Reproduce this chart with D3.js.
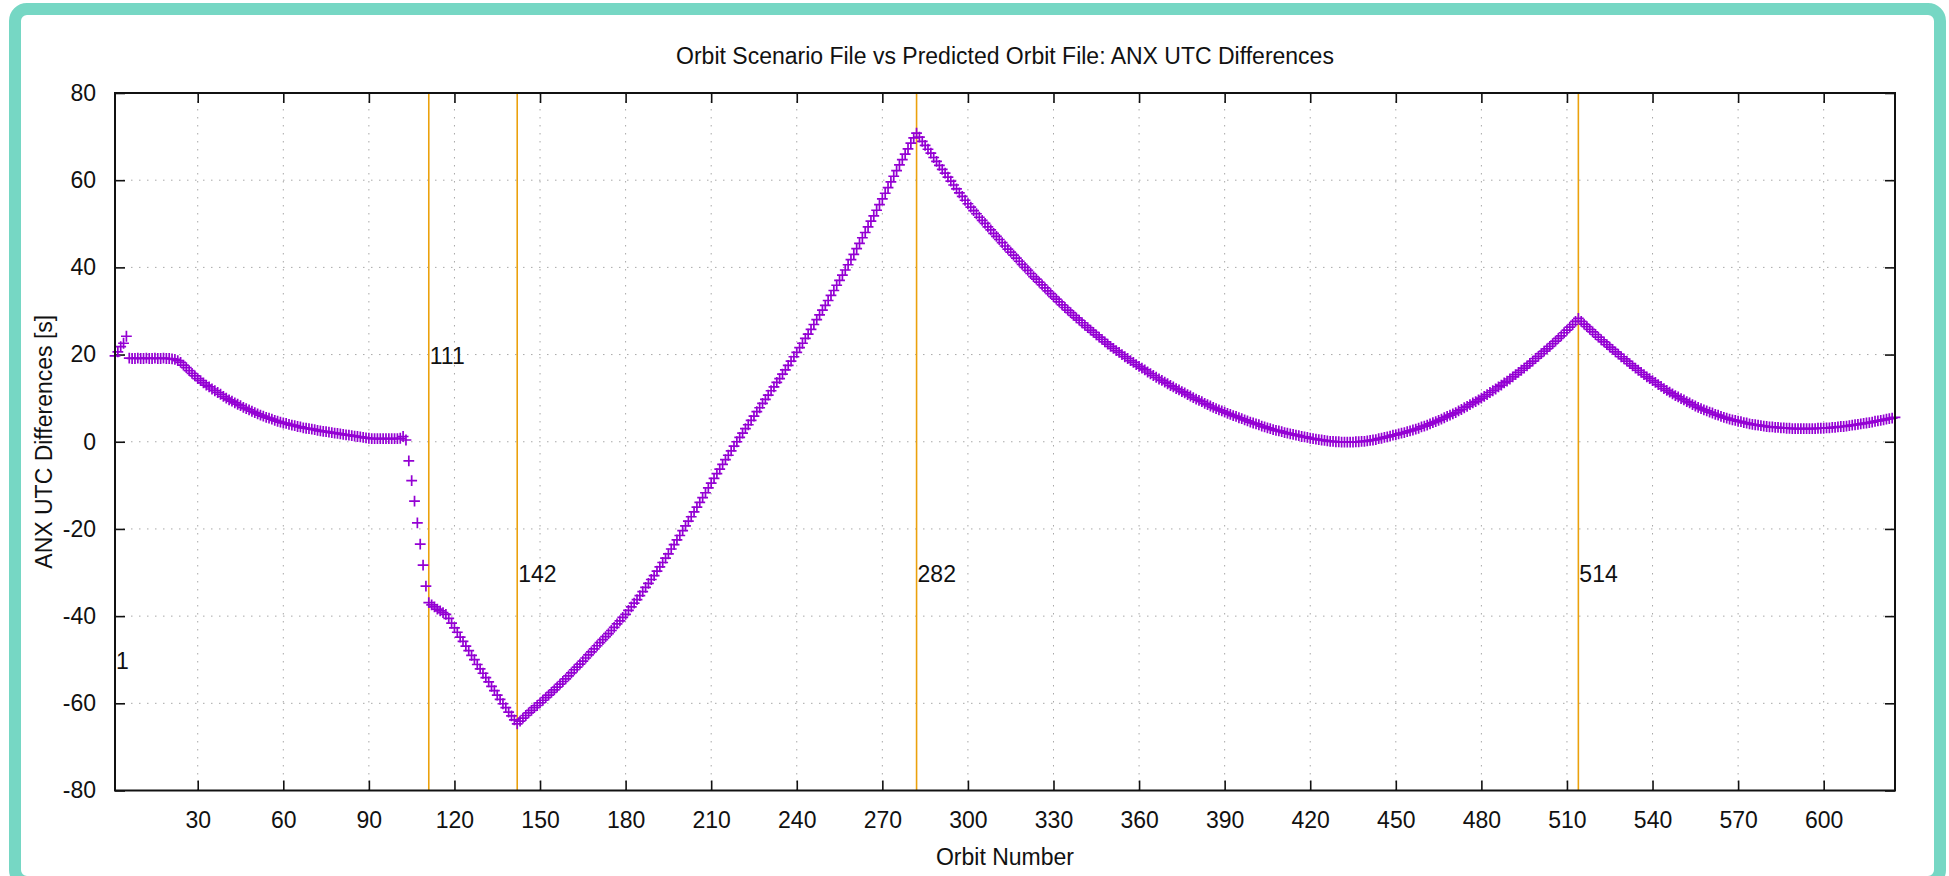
<!DOCTYPE html>
<html>
<head>
<meta charset="utf-8">
<script src="https://cdn.jsdelivr.net/npm/d3@7"></script>
<style>
  html, body { margin: 0; padding: 0; background: #ffffff; }
  svg { display: block; }
  text { font-family: "Liberation Sans", Arial, Helvetica, sans-serif; fill: #111; }
</style>
</head>
<body>
<svg id="chart" width="1949" height="876"></svg>
<script>
// ---------------- data ----------------
const chartTitle = "Orbit Scenario File vs Predicted Orbit File: ANX UTC Differences";
const xLabel = "Orbit Number";
const yLabel = "ANX UTC Differences [s]";
const firstOrbit = 1;
const lastOrbit = 625;
// ANX UTC difference [s] for orbits 1..625 (one value per orbit)
const anxDiff = [
  19.7, 20.6, 21.8, 22.6, 24.2, 19.2, 19.1, 19.1, 19.2, 19.1,
  19.1, 19.2, 19.1, 19.1, 19.2, 19.1, 19.1, 19.2, 19.1, 19.1,
  19.0, 18.9, 18.6, 18.2, 17.6, 17.0, 16.3, 15.7, 15.1, 14.5,
  14.0, 13.5, 13.0, 12.6, 12.1, 11.7, 11.3, 10.9, 10.4, 10.0,
  9.6, 9.3, 8.9, 8.6, 8.3, 7.9, 7.6, 7.3, 7.0, 6.7,
  6.4, 6.1, 5.9, 5.6, 5.4, 5.2, 4.9, 4.7, 4.5, 4.3,
  4.2, 4.0, 3.8, 3.7, 3.5, 3.4, 3.2, 3.1, 3.0, 2.9,
  2.8, 2.6, 2.5, 2.4, 2.3, 2.2, 2.1, 2.0, 1.9, 1.8,
  1.7, 1.6, 1.5, 1.4, 1.3, 1.2, 1.1, 1.0, 0.9, 0.8,
  0.7, 0.7, 0.7, 0.7, 0.7, 0.7, 0.7, 0.7, 0.7, 0.7,
  0.8, 1.2, 0.4, -4.4, -8.9, -13.6, -18.6, -23.5, -28.3, -33.1,
  -36.9, -37.4, -37.9, -38.4, -38.8, -39.2, -39.6, -40.5, -41.6, -42.7,
  -43.7, -44.8, -45.8, -46.9, -47.9, -49.0, -50.0, -51.1, -52.1, -53.1,
  -54.1, -55.1, -56.1, -57.1, -58.1, -59.1, -60.1, -61.0, -62.0, -62.9,
  -63.8, -64.7, -64.1, -63.4, -62.8, -62.2, -61.6, -61.0, -60.5, -59.9,
  -59.3, -58.7, -58.1, -57.5, -56.9, -56.3, -55.6, -55.0, -54.4, -53.7,
  -53.0, -52.3, -51.7, -51.0, -50.3, -49.6, -48.9, -48.2, -47.5, -46.8,
  -46.1, -45.4, -44.7, -44.0, -43.3, -42.6, -41.8, -41.1, -40.3, -39.6,
  -38.7, -37.9, -37.0, -36.2, -35.3, -34.4, -33.4, -32.5, -31.6, -30.7,
  -29.7, -28.7, -27.7, -26.7, -25.7, -24.6, -23.6, -22.5, -21.5, -20.4,
  -19.3, -18.2, -17.2, -16.1, -15.0, -13.9, -12.8, -11.7, -10.6, -9.5,
  -8.4, -7.3, -6.3, -5.2, -4.1, -3.1, -2.1, -1.0, 0.0, 1.0,
  2.0, 3.0, 3.9, 4.9, 5.9, 6.9, 7.8, 8.8, 9.7, 10.7,
  11.7, 12.6, 13.6, 14.5, 15.5, 16.5, 17.5, 18.5, 19.5, 20.5,
  21.6, 22.6, 23.7, 24.7, 25.8, 26.9, 28.0, 29.1, 30.2, 31.3,
  32.4, 33.6, 34.7, 35.9, 37.0, 38.2, 39.4, 40.6, 41.8, 43.0,
  44.3, 45.5, 46.8, 48.0, 49.3, 50.6, 51.8, 53.1, 54.4, 55.7,
  57.0, 58.3, 59.6, 60.9, 62.2, 63.5, 64.7, 66.0, 67.2, 68.5,
  69.7, 70.8, 69.9, 68.9, 68.0, 67.1, 66.2, 65.2, 64.3, 63.4,
  62.5, 61.6, 60.7, 59.8, 58.9, 58.0, 57.1, 56.3, 55.4, 54.6,
  53.8, 53.0, 52.3, 51.5, 50.8, 50.1, 49.3, 48.6, 47.8, 47.1,
  46.4, 45.7, 44.9, 44.2, 43.5, 42.8, 42.1, 41.4, 40.7, 40.0,
  39.3, 38.6, 37.9, 37.3, 36.6, 36.0, 35.3, 34.6, 34.0, 33.3,
  32.7, 32.1, 31.4, 30.8, 30.2, 29.6, 29.0, 28.4, 27.9, 27.3,
  26.7, 26.2, 25.6, 25.1, 24.5, 24.0, 23.5, 22.9, 22.4, 21.9,
  21.4, 20.9, 20.5, 20.0, 19.5, 19.1, 18.6, 18.2, 17.7, 17.3,
  16.9, 16.5, 16.0, 15.6, 15.2, 14.8, 14.4, 14.1, 13.7, 13.3,
  12.9, 12.6, 12.2, 11.9, 11.5, 11.2, 10.8, 10.5, 10.1, 9.8,
  9.5, 9.2, 8.8, 8.5, 8.2, 7.9, 7.6, 7.3, 7.1, 6.8,
  6.5, 6.3, 6.0, 5.8, 5.5, 5.3, 5.0, 4.8, 4.5, 4.3,
  4.1, 3.9, 3.6, 3.4, 3.2, 3.0, 2.8, 2.6, 2.5, 2.3,
  2.1, 2.0, 1.8, 1.7, 1.5, 1.4, 1.2, 1.1, 1.0, 0.8,
  0.7, 0.6, 0.5, 0.4, 0.3, 0.2, 0.1, 0.1, 0.0, 0.0,
  -0.1, -0.1, -0.1, -0.1, -0.1, 0.0, 0.0, 0.1, 0.1, 0.2,
  0.3, 0.4, 0.5, 0.7, 0.8, 1.0, 1.1, 1.3, 1.5, 1.6,
  1.8, 2.0, 2.1, 2.3, 2.5, 2.7, 2.9, 3.1, 3.4, 3.6,
  3.8, 4.1, 4.4, 4.6, 4.9, 5.2, 5.5, 5.8, 6.1, 6.4,
  6.7, 7.1, 7.4, 7.8, 8.1, 8.5, 8.9, 9.2, 9.6, 10.0,
  10.4, 10.8, 11.3, 11.7, 12.1, 12.6, 13.0, 13.5, 13.9, 14.4,
  14.9, 15.4, 15.9, 16.4, 16.9, 17.4, 18.0, 18.5, 19.1, 19.6,
  20.2, 20.8, 21.3, 21.9, 22.5, 23.1, 23.7, 24.3, 25.0, 25.6,
  26.3, 26.9, 27.6, 28.3, 27.6, 27.0, 26.4, 25.8, 25.2, 24.6,
  24.0, 23.4, 22.9, 22.3, 21.7, 21.2, 20.6, 20.1, 19.5, 19.0,
  18.5, 17.9, 17.4, 16.9, 16.4, 15.9, 15.4, 14.9, 14.5, 14.0,
  13.6, 13.1, 12.7, 12.2, 11.8, 11.4, 11.0, 10.6, 10.3, 9.9,
  9.6, 9.2, 8.9, 8.5, 8.2, 7.9, 7.6, 7.3, 7.1, 6.8,
  6.6, 6.3, 6.1, 5.8, 5.6, 5.4, 5.2, 5.0, 4.9, 4.7,
  4.6, 4.4, 4.3, 4.1, 4.0, 3.9, 3.8, 3.7, 3.6, 3.5,
  3.4, 3.4, 3.3, 3.3, 3.2, 3.2, 3.1, 3.1, 3.0, 3.0,
  3.0, 3.0, 3.0, 3.0, 3.0, 3.0, 3.0, 3.1, 3.1, 3.1,
  3.2, 3.2, 3.3, 3.3, 3.4, 3.5, 3.5, 3.6, 3.7, 3.8,
  3.9, 4.0, 4.1, 4.2, 4.3, 4.4, 4.5, 4.7, 4.8, 4.9,
  5.0, 5.2, 5.3, 5.4, 5.6
];
// marked orbits (vertical lines) and the height of their labels
const eventOrbits = [1, 111, 142, 282, 514];
const eventLabelY = [-50, 20, -30, -30, -30];
const xTicks = [30, 60, 90, 120, 150, 180, 210, 240, 270, 300, 330, 360, 390, 420, 450, 480, 510, 540, 570, 600];
const yTicks = [-80, -60, -40, -20, 0, 20, 40, 60, 80];
const yDomain = [-80, 80];

// ---------------- drawing ----------------
const W = 1949, H = 876;
const FS = 23;
const plot = { left: 115, right: 1895, top: 93, bottom: 790.5 };
const svg = d3.select("#chart");

// frame
svg.append("rect").attr("x", 0).attr("y", 0).attr("width", W).attr("height", H).attr("fill", "#ffffff");
svg.append("rect")
  .attr("x", 15).attr("y", 9).attr("width", 1925).attr("height", 873)
  .attr("rx", 12).attr("ry", 12)
  .attr("fill", "none").attr("stroke", "#76d7c4").attr("stroke-width", 12);

const x = d3.scaleLinear().domain([firstOrbit, lastOrbit]).range([plot.left, plot.right]);
const y = d3.scaleLinear().domain(yDomain).range([plot.bottom, plot.top]);

const points = anxDiff.map((v, i) => ({ orbit: firstOrbit + i, value: v }));

// grid
const grid = svg.append("g").attr("stroke", "#a8a8a8").attr("stroke-width", 1).attr("stroke-dasharray", "1.5,6.5");
grid.selectAll("line.gx").data(xTicks).join("line")
  .attr("x1", d => x(d)).attr("x2", d => x(d)).attr("y1", plot.top).attr("y2", plot.bottom);
grid.selectAll("line.gy").data(yTicks.filter(d => d > yDomain[0] && d < yDomain[1])).join("line")
  .attr("x1", plot.left).attr("x2", plot.right).attr("y1", d => y(d)).attr("y2", d => y(d));

// axes (ticks pointing inward, mirrored)
const tickLen = 10;
const fmt = d => String(d);
const axB = d3.axisBottom(x).tickValues(xTicks).tickSize(-tickLen).tickPadding(21).tickFormat(fmt);
const axT = d3.axisTop(x).tickValues(xTicks).tickSize(-tickLen).tickFormat("");
const axL = d3.axisLeft(y).tickValues(yTicks).tickSize(-tickLen).tickPadding(19).tickFormat(fmt);
const axR = d3.axisRight(y).tickValues(yTicks).tickSize(-tickLen).tickFormat("");

function styleAxis(g) {
  g.select(".domain").remove();
  g.selectAll(".tick line").attr("stroke", "#111").attr("stroke-width", 1.6);
  g.selectAll(".tick text").attr("font-size", FS).attr("fill", "#111")
    .attr("font-family", '"Liberation Sans", Arial, sans-serif');
}
svg.append("g").attr("transform", `translate(0,${plot.bottom})`).call(axB).call(styleAxis);
svg.append("g").attr("transform", `translate(0,${plot.top})`).call(axT).call(styleAxis);
svg.append("g").attr("transform", `translate(${plot.left},0)`).call(axL).call(styleAxis);
svg.append("g").attr("transform", `translate(${plot.right},0)`).call(axR).call(styleAxis);

// event lines
const ev = svg.append("g");
ev.selectAll("line").data(eventOrbits).join("line")
  .attr("x1", d => x(d)).attr("x2", d => x(d)).attr("y1", plot.top).attr("y2", plot.bottom)
  .attr("stroke", "#eba10c").attr("stroke-width", 1.6);

// data markers (+)
const s = 5.4;
svg.append("g").selectAll("path").data(points).join("path")
  .attr("d", d => {
    const px = x(d.orbit), py = y(d.value);
    return `M${px - s},${py}H${px + s}M${px},${py - s}V${py + s}`;
  })
  .attr("fill", "none").attr("stroke", "#9400d3").attr("stroke-width", 1.7);

// event labels
ev.selectAll("text").data(eventOrbits).join("text")
  .attr("x", d => x(d) + 1).attr("y", (d, i) => y(eventLabelY[i]))
  .attr("dy", "0.4em").attr("font-size", FS).text(d => d);

// border
svg.append("rect").attr("x", plot.left).attr("y", plot.top)
  .attr("width", plot.right - plot.left).attr("height", plot.bottom - plot.top)
  .attr("fill", "none").attr("stroke", "#111").attr("stroke-width", 2);

// titles
svg.append("text").attr("x", (plot.left + plot.right) / 2).attr("y", 64)
  .attr("text-anchor", "middle").attr("font-size", FS).text(chartTitle);
svg.append("text").attr("x", (plot.left + plot.right) / 2).attr("y", 865)
  .attr("text-anchor", "middle").attr("font-size", FS).text(xLabel);
svg.append("text").attr("transform", `translate(52,${(plot.top + plot.bottom) / 2}) rotate(-90)`)
  .attr("text-anchor", "middle").attr("font-size", FS).text(yLabel);
</script>
</body>
</html>
